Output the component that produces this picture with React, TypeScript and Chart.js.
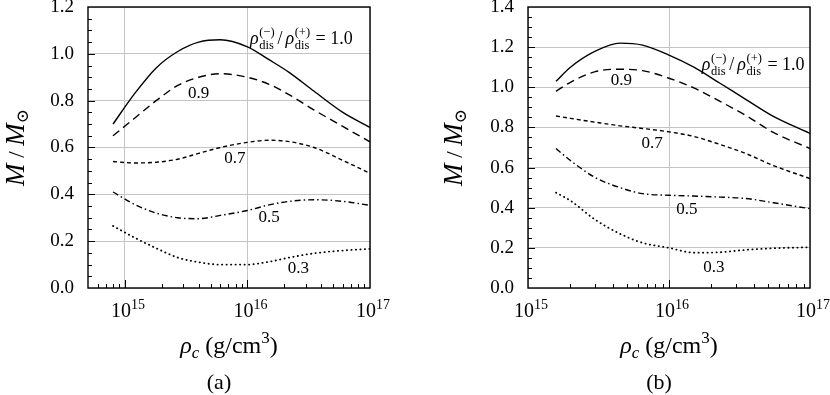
import React, { useEffect, useRef } from "react";
import { Chart, registerables } from "chart.js";
Chart.register(...registerables);

const SERIF = '"Liberation Serif", "DejaVu Serif", serif';

// ---------- data: panel (a) ----------
const densA = [8e14, 1.2e15, 1.8e15, 2.7e15, 4e15, 6e15, 1e16, 1.5e16, 2.2e16, 3.5e16, 6e16, 1e17];
const a10 = [0.70, 0.83, 0.94, 1.01, 1.05, 1.06, 1.03, 0.975, 0.92, 0.84, 0.75, 0.686];
const a09 = [0.65, 0.725, 0.80, 0.865, 0.90, 0.915, 0.90, 0.87, 0.825, 0.76, 0.69, 0.624];
const a07 = [0.54, 0.534, 0.537, 0.55, 0.575, 0.60, 0.622, 0.631, 0.625, 0.60, 0.545, 0.49];
const a05 = [0.41, 0.357, 0.32, 0.30, 0.296, 0.31, 0.331, 0.355, 0.37, 0.377, 0.37, 0.353];
const a03 = [0.265, 0.215, 0.17, 0.13, 0.11, 0.10, 0.10, 0.112, 0.13, 0.148, 0.16, 0.167];

// ---------- data: panel (b) ----------
const densB = [1.58e15, 2e15, 3e15, 4.5e15, 6.5e15, 1e16, 1.5e16, 2.3e16, 3.5e16, 5.5e16, 1e17];
const b10 = [1.03, 1.10, 1.18, 1.22, 1.21, 1.16, 1.10, 1.02, 0.94, 0.855, 0.77];
const b09 = [0.98, 1.025, 1.078, 1.09, 1.083, 1.045, 0.997, 0.93, 0.86, 0.775, 0.695];
const b07 = [0.857, 0.845, 0.826, 0.808, 0.795, 0.778, 0.755, 0.715, 0.67, 0.61, 0.545];
const b05 = [0.695, 0.635, 0.55, 0.50, 0.47, 0.462, 0.458, 0.453, 0.446, 0.425, 0.395];
const b03 = [0.475, 0.435, 0.34, 0.27, 0.225, 0.20, 0.176, 0.178, 0.19, 0.198, 0.203];

const ratioLabels = ["1.0", "0.9", "0.7", "0.5", "0.3"];
const xTickValues = [1e15, 1e16, 1e17];
const yStep = 0.2;
const yMinorStep = 0.05;

// label anchors in data coordinates [x, y] for 0.9, 0.7, 0.5, 0.3
const labelPosA = [[4.0e15, 0.83], [7.9e15, 0.553], [1.5e16, 0.302], [2.6e16, 0.085]];
const labelPosB = [[4.6e15, 1.033], [7.6e15, 0.72], [1.34e16, 0.392], [2.08e16, 0.104]];
const mainLabelA = [1.05e16, 1.064];
const mainLabelB = [1.71e16, 1.112];

const DASHES: number[][] = [[], [8, 5], [4, 3], [6, 3, 1.5, 3], [0.3, 4.2]];

type Panel = {
  dens: number[];
  series: number[][];
  xMin: number;
  yMax: number;
  yWidth: number;
  padRight: number;
  titleX: number;
  labelPos: number[][];
  mainLabel: number[];
  caption: string;
};

function drawRatio(ctx: CanvasRenderingContext2D, x: number, y: number) {
  const big = 18, small = 12.5;
  ctx.textBaseline = "alphabetic";
  ctx.textAlign = "left";
  let cx = x;
  const rhoStack = (sup: string) => {
    ctx.font = `italic ${big}px ${SERIF}`;
    ctx.fillText("ρ", cx, y);
    cx += ctx.measureText("ρ").width + 0.5;
    ctx.font = `${small}px ${SERIF}`;
    const w1 = ctx.measureText(sup).width;
    const w2 = ctx.measureText("dis").width;
    ctx.fillText(sup, cx, y - 8);
    ctx.fillText("dis", cx, y + 5);
    cx += Math.max(w1, w2) + 1;
  };
  rhoStack("(−)");
  ctx.font = `${big}px ${SERIF}`;
  ctx.fillText("/", cx + 2, y);
  cx += ctx.measureText("/").width + 5;
  rhoStack("(+)");
  ctx.font = `${big}px ${SERIF}`;
  ctx.fillText(" = 1.0", cx, y);
}

function drawParts(ctx: CanvasRenderingContext2D, parts: { t: string; f: string; dy: number }[], cx: number, y: number) {
  let w = 0;
  for (const p of parts) { ctx.font = p.f; w += ctx.measureText(p.t).width; }
  let x = cx - w / 2;
  ctx.textAlign = "left";
  ctx.textBaseline = "alphabetic";
  for (const p of parts) {
    ctx.font = p.f;
    ctx.fillText(p.t, x, y + p.dy);
    x += ctx.measureText(p.t).width;
  }
  return w;
}

function drawXTitle(ctx: CanvasRenderingContext2D, cx: number, y: number) {
  const big = 24, small = 17;
  drawParts(ctx, [
    { t: "ρ", f: `italic ${big}px ${SERIF}`, dy: 0 },
    { t: "c", f: `italic ${small}px ${SERIF}`, dy: 5 },
    { t: " (g/cm", f: `${big}px ${SERIF}`, dy: 0 },
    { t: "3", f: `${small}px ${SERIF}`, dy: -10 },
    { t: ")", f: `${big}px ${SERIF}`, dy: 0 },
  ], cx, y);
}

function drawYTitle(ctx: CanvasRenderingContext2D, cx: number, cy: number) {
  ctx.save();
  ctx.translate(cx, cy);
  ctx.rotate(-Math.PI / 2);
  const big = 27, small = 17;
  drawParts(ctx, [
    { t: "M", f: `italic ${big}px ${SERIF}`, dy: 0 },
    { t: " / ", f: `${big - 4}px ${SERIF}`, dy: 0 },
    { t: "M", f: `italic ${big}px ${SERIF}`, dy: 0 },
    { t: "⊙", f: `${small}px ${SERIF}`, dy: 4 },
  ], 0, 9);
  ctx.restore();
}

function decorPlugin(p: Panel) {
  return {
    id: "decor",
    afterDraw(chart: any) {
      const ctx: CanvasRenderingContext2D = chart.ctx;
      const { left, right, top, bottom } = chart.chartArea;
      const xs = chart.scales.x, ys = chart.scales.y;
      ctx.save();
      ctx.strokeStyle = "#000";
      ctx.fillStyle = "#000";
      // minor/major ticks on y (inside)
      ctx.lineWidth = 1;
      const nY = Math.round(p.yMax / yMinorStep);
      for (let i = 1; i < nY; i++) {
        const v = i * yMinorStep;
        const py = Math.round(ys.getPixelForValue(v)) + 0.5;
        const len = i % 4 === 0 ? 7 : 4;
        ctx.beginPath();
        ctx.moveTo(left, py);
        ctx.lineTo(left + len, py);
        ctx.stroke();
      }
      // ticks on x (inside)
      for (let d = 14; d <= 16; d++) {
        for (let k = 1; k <= 9; k++) {
          const v = k * Math.pow(10, d);
          if (v <= p.xMin * 1.0001 || v >= 1e17 * 0.9999) continue;
          const px = Math.round(xs.getPixelForValue(v)) + 0.5;
          const len = k === 1 ? 8 : 4;
          ctx.beginPath();
          ctx.moveTo(px, bottom);
          ctx.lineTo(px, bottom - len);
          ctx.stroke();
        }
      }
      // frame
      ctx.lineWidth = 1.4;
      ctx.strokeRect(left, top, right - left, bottom - top);
      // x tick labels 10^n
      for (const t of xs.ticks) {
        const e = String(Math.round(Math.log10(t.value)));
        const px = xs.getPixelForValue(t.value);
        ctx.font = `20px ${SERIF}`;
        const w1 = ctx.measureText("10").width;
        ctx.font = `14px ${SERIF}`;
        const w2 = ctx.measureText(e).width;
        const x0 = px - (w1 + w2) / 2 + 3;
        ctx.textAlign = "left";
        ctx.textBaseline = "alphabetic";
        ctx.font = `20px ${SERIF}`;
        ctx.fillText("10", x0, bottom + 29);
        ctx.font = `14px ${SERIF}`;
        ctx.fillText(e, x0 + w1, bottom + 21);
      }
      // curve labels
      ctx.font = `17px ${SERIF}`;
      ctx.textAlign = "center";
      ctx.textBaseline = "middle";
      p.labelPos.forEach((pos, i) => {
        ctx.fillText(ratioLabels[i + 1], xs.getPixelForValue(pos[0]), ys.getPixelForValue(pos[1]));
      });
      drawRatio(ctx, xs.getPixelForValue(p.mainLabel[0]), ys.getPixelForValue(p.mainLabel[1]) + 5);
      // axis titles and caption
      const cx = (left + right) / 2;
      drawXTitle(ctx, cx, bottom + 65);
      drawYTitle(ctx, p.titleX, (top + bottom) / 2);
      ctx.font = `22px ${SERIF}`;
      ctx.textAlign = "center";
      ctx.textBaseline = "middle";
      ctx.fillText(p.caption, cx - 10, bottom + 95);
      ctx.restore();
    },
  };
}

function makeConfig(p: Panel): any {
  const xGrid = { color: "#c4c4c4", lineWidth: 1, drawTicks: false };
  const yGrid = { color: "#c4c4c4", lineWidth: 1, drawTicks: true, tickLength: 14, tickColor: "rgba(0,0,0,0)" };
  return {
    type: "line",
    data: {
      datasets: p.series.map((s, i) => ({
        label: ratioLabels[i],
        data: p.dens.map((x, j) => ({ x, y: s[j] })),
        borderColor: "#000",
        borderWidth: i === 4 ? 1.8 : 1.4,
        borderDash: DASHES[i],
        borderCapStyle: i === 4 ? "round" : "butt",
        pointRadius: 0,
        fill: false,
        cubicInterpolationMode: "monotone",
      })),
    },
    options: {
      animation: false,
      responsive: false,
      layout: { padding: { top: 7, right: p.padRight, left: 0, bottom: 0 } },
      plugins: { legend: { display: false }, tooltip: { enabled: false } },
      scales: {
        x: {
          type: "logarithmic",
          min: p.xMin,
          max: 1e17,
          afterBuildTicks: (s: any) => {
            s.ticks = xTickValues.map((v) => ({ value: v }));
          },
          ticks: { display: false },
          grid: xGrid,
          border: { display: false },
          afterFit: (s: any) => {
            s.height = 107;
          },
        },
        y: {
          min: 0,
          max: p.yMax,
          ticks: {
            stepSize: yStep,
            callback: (v: number) => v.toFixed(1),
            font: { family: SERIF, size: 19, lineHeight: 0.6 },
            color: "#000",
            padding: 0,
          },
          grid: yGrid,
          border: { display: false },
          afterFit: (s: any) => {
            s.width = p.yWidth;
          },
        },
      },
    },
    plugins: [decorPlugin(p)],
  };
}

const panelA: Panel = {
  dens: densA,
  series: [a10, a09, a07, a05, a03],
  xMin: 5e14,
  yMax: 1.2,
  yWidth: 88,
  padRight: 45,
  titleX: 15,
  labelPos: labelPosA,
  mainLabel: mainLabelA,
  caption: "(a)",
};
const panelB: Panel = {
  dens: densB,
  series: [b10, b09, b07, b05, b03],
  xMin: 1e15,
  yMax: 1.4,
  yWidth: 113,
  padRight: 20,
  titleX: 38,
  labelPos: labelPosB,
  mainLabel: mainLabelB,
  caption: "(b)",
};

function ChartPanel({ p, left }: { p: Panel; left: number }) {
  const ref = useRef<HTMLCanvasElement>(null);
  useEffect(() => {
    if (!ref.current) return;
    const c = new Chart(ref.current, makeConfig(p));
    return () => c.destroy();
  }, [p]);
  return (
    <canvas
      ref={ref}
      width={415}
      height={395}
      style={{ position: "absolute", left, top: 0, width: 415, height: 395 }}
    />
  );
}

export default function App() {
  return (
    <div style={{ position: "fixed", left: 0, top: 0, width: 830, height: 395, background: "#fff" }}>
      <ChartPanel p={panelA} left={0} />
      <ChartPanel p={panelB} left={415} />
    </div>
  );
}
